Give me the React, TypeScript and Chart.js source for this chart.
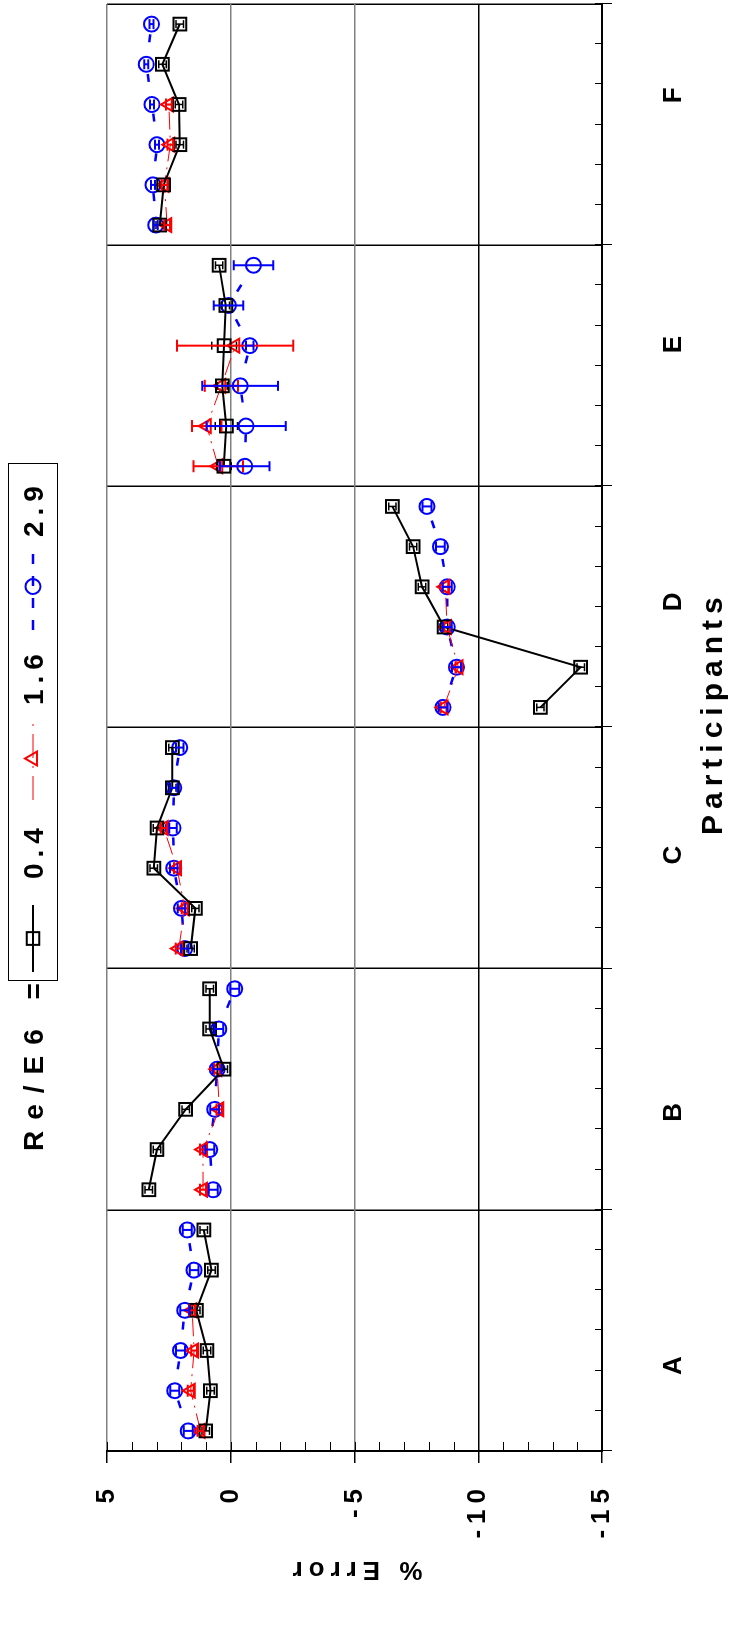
import React, { useEffect, useRef } from 'react';
import { Chart, registerables } from 'chart.js';

Chart.register(...registerables);

// ---------- data ----------
const CATEGORIES = ['A', 'B', 'C', 'D', 'E', 'F'];
const LEGEND_TITLE = 'Re/E6 =';
const SERIES_LABELS = ['0.4', '1.6', '2.9'];
const X_TITLE = 'Participants';
const Y_TITLE = '% Error';

// 6 runs per participant (36 slots), % error
const series04: (number | null)[] = [
  1.01, 0.82, 0.96, 1.39, 0.78, 1.09,
  3.31, 2.98, 1.82, 0.28, 0.85, 0.85,
  1.62, 1.43, 3.11, 2.98, 2.36, 2.36,
  -12.51, -14.14, -8.62, -7.73, -7.37, -6.53,
  0.28, 0.18, 0.34, 0.27, 0.2, 0.47,
  2.87, 2.71, 2.06, 2.09, 2.76, 2.06,
];
const series16: (number | null)[] = [
  1.22, 1.62, 1.48, 1.56, null, null,
  1.12, 1.12, 0.46, 0.55, null, null,
  2.1, 1.86, 2.17, 2.71, null, null,
  -8.6, -9.2, -8.74, -8.67, null, null,
  0.51, 0.97, 0.38, -0.18, null, null,
  2.57, 2.68, 2.44, 2.5, null, null,
];
const series29: (number | null)[] = [
  1.72, 2.26, 2.03, 1.86, 1.48, 1.76,
  0.71, 0.85, 0.65, 0.55, 0.48, -0.16,
  1.86, 1.99, 2.3, 2.33, 2.3, 2.06,
  -8.58, -9.12, -8.75, -8.75, -8.47, -7.93,
  -0.57, -0.62, -0.38, -0.77, 0.09, -0.92,
  3.03, 3.14, 2.98, 3.18, 3.41, 3.2,
];
// error-bar half widths
const err04: number[] = [
  0.15, 0.15, 0.15, 0.15, 0.15, 0.15,
  0.15, 0.15, 0.15, 0.15, 0.15, 0.15,
  0.15, 0.15, 0.15, 0.15, 0.15, 0.15,
  0.15, 0.15, 0.15, 0.15, 0.15, 0.15,
  0.3, 0.45, 0.2, 0.5, 0.15, 0.15,
  0.15, 0.15, 0.15, 0.15, 0.15, 0.15,
];
const err16: number[] = [
  0.12, 0.12, 0.12, 0.12, 0, 0,
  0.12, 0.12, 0.12, 0.12, 0, 0,
  0.12, 0.12, 0.12, 0.12, 0, 0,
  0.12, 0.12, 0.12, 0.12, 0, 0,
  1.0, 0.6, 0.67, 2.35, 0, 0,
  0.12, 0.12, 0.12, 0.12, 0, 0,
];
const err29: number[] = [
  0.18, 0.18, 0.18, 0.18, 0.18, 0.18,
  0.18, 0.18, 0.18, 0.18, 0.18, 0.18,
  0.15, 0.15, 0.15, 0.15, 0.15, 0.15,
  0.18, 0.18, 0.18, 0.18, 0.18, 0.18,
  1.0, 1.6, 1.53, 0.15, 0.6, 0.8,
  0.08, 0.08, 0.08, 0.08, 0.08, 0.08,
];

// where the participant letters sit along the run axis (layout, as in the original)
const LABEL_POS = [2.2, 8.5, 14.9, 21.2, 27.6, 33.8];

const FONT = '"Liberation Sans", Arial, sans-serif';
const SPACING = '6px';

type Pt = { x: number; y: number | null; e?: number };

function build(vals: (number | null)[], errs: number[]): Pt[] {
  const out: Pt[] = [];
  for (let i = 0; i < vals.length; i++) {
    if (i > 0 && i % 6 === 0) out.push({ x: i, y: null });
    out.push({ x: i + 0.5, y: vals[i], e: errs[i] });
  }
  return out;
}

const STYLES = [
  { color: '#000000', lineWidth: 2, dash: [] as number[], dashOffset: 0, point: 'rect', radius: 9, errWidth: 1.5, cap: 4 },
  { color: '#ff0000', lineWidth: 1, dash: [18, 6, 2, 6], dashOffset: 0, point: 'triangle', radius: 8, errWidth: 2, cap: 6 },
  { color: '#0000ff', lineWidth: 2.5, dash: [8, 32], dashOffset: 16, point: 'circle', radius: 7.5, errWidth: 2, cap: 5 },
];

function drawMarker(ctx: CanvasRenderingContext2D, kind: string, x: number, y: number, r: number) {
  ctx.beginPath();
  if (kind === 'rect') {
    const s = r * Math.SQRT1_2;
    ctx.rect(x - s, y - s, 2 * s, 2 * s);
  } else if (kind === 'triangle') {
    ctx.moveTo(x, y - r);
    ctx.lineTo(x + r * Math.sin(Math.PI / 3), y + r * 0.5);
    ctx.lineTo(x - r * Math.sin(Math.PI / 3), y + r * 0.5);
    ctx.closePath();
  } else {
    ctx.arc(x, y, r, 0, Math.PI * 2);
  }
  ctx.stroke();
}

const spacingPlugin = {
  id: 'spacing',
  afterInit(c: any) { c.ctx.letterSpacing = SPACING; },
  beforeUpdate(c: any) { c.ctx.letterSpacing = SPACING; },
  beforeDraw(c: any) { c.ctx.letterSpacing = SPACING; },
};

const decorPlugin = {
  id: 'decor',
  afterDatasetsDraw(chart: any) {
    const { ctx, scales } = chart;
    const ys = scales.y;
    chart.data.datasets.forEach((ds: any, di: number) => {
      const meta = chart.getDatasetMeta(di);
      const st = STYLES[di];
      ctx.save();
      ctx.strokeStyle = st.color;
      ctx.lineWidth = st.errWidth;
      ctx.setLineDash([]);
      ds.data.forEach((p: Pt, j: number) => {
        if (p.y == null || !p.e) return;
        const el = meta.data[j];
        const px = el.x;
        const t = ys.getPixelForValue(p.y + p.e);
        const b = ys.getPixelForValue(p.y - p.e);
        ctx.beginPath();
        ctx.moveTo(px, t); ctx.lineTo(px, b);
        ctx.moveTo(px - st.cap, t); ctx.lineTo(px + st.cap, t);
        ctx.moveTo(px - st.cap, b); ctx.lineTo(px + st.cap, b);
        ctx.stroke();
      });
      ctx.restore();
    });
  },
  afterDraw(chart: any) {
    const { ctx, chartArea, scales } = chart;
    const xs = scales.x, ys = scales.y;
    ctx.save();
    ctx.strokeStyle = '#000';
    ctx.lineWidth = 1;
    ctx.beginPath();
    for (let v = -15; v <= 5; v++) {
      const py = Math.round(ys.getPixelForValue(v)) + 0.5;
      ctx.moveTo(chartArea.left, py); ctx.lineTo(chartArea.left + 9, py);
    }
    for (let i = 0; i <= 36; i++) {
      const px = Math.round(xs.getPixelForValue(i)) + 0.5;
      ctx.moveTo(px, chartArea.bottom); ctx.lineTo(px, chartArea.bottom - 7);
      if (i % 6 === 0) { ctx.moveTo(px, chartArea.bottom); ctx.lineTo(px, chartArea.bottom + 10); }
    }
    ctx.stroke();

    // legend
    ctx.fillStyle = '#000';
    ctx.font = `bold 28px ${FONT}`;
    ctx.textBaseline = 'middle';
    ctx.textAlign = 'left';
    ctx.letterSpacing = '11px';
    ctx.fillText(LEGEND_TITLE, 476, 35);
    ctx.letterSpacing = SPACING;
    ctx.lineWidth = 1;
    ctx.strokeRect(646.5, 8.5, 517, 49);
    const sampleStart = [655, 827, 997];
    const sampleLen = [67, 83, 87];
    const textStart = [748, 922, 1090];
    const cy = 33;
    SERIES_LABELS.forEach((lab, k) => {
      const st = STYLES[k];
      ctx.strokeStyle = st.color;
      ctx.lineWidth = st.lineWidth;
      ctx.setLineDash(st.dash.length ? (k === 2 ? [10, 12] : [24, 8, 2, 8]) : []);
      ctx.beginPath();
      ctx.moveTo(sampleStart[k], cy);
      ctx.lineTo(sampleStart[k] + sampleLen[k], cy);
      ctx.stroke();
      ctx.setLineDash([]);
      ctx.lineWidth = 2;
      drawMarker(ctx, st.point, sampleStart[k] + sampleLen[k] / 2, cy, st.radius);
      ctx.fillStyle = '#000';
      ctx.fillText(lab, textStart[k], cy + 2);
    });
    ctx.restore();
  },
};

export default function App() {
  const ref = useRef<HTMLCanvasElement | null>(null);
  useEffect(() => {
    if (!ref.current) return;
    const datasets = [series04, series16, series29].map((vals, k) => {
      const st = STYLES[k];
      const errs = [err04, err16, err29][k];
      return {
        label: SERIES_LABELS[k],
        data: build(vals, errs),
        borderColor: st.color,
        borderWidth: st.lineWidth,
        borderDash: st.dash,
        borderDashOffset: st.dashOffset,
        pointStyle: st.point,
        pointRadius: st.radius,
        pointBorderColor: st.color,
        pointBackgroundColor: 'rgba(0,0,0,0)',
        pointBorderWidth: 2,
        tension: 0,
        spanGaps: false,
      };
    });
    const tickFont = { family: FONT, size: 26, weight: 'bold' as const };
    const labelIndex = (v: number) => LABEL_POS.findIndex((p) => Math.abs(p - v) < 1e-6);
    const chart = new Chart(ref.current, {
      type: 'line',
      data: { datasets: datasets as any },
      options: {
        animation: false,
        responsive: false,
        devicePixelRatio: 1,
        layout: { autoPadding: false, padding: { top: 107, right: 4, left: 0, bottom: 0 } },
        plugins: { legend: { display: false }, tooltip: { enabled: false } },
        scales: {
          x: {
            type: 'linear',
            min: 0,
            max: 36,
            afterBuildTicks: (s: any) => {
              const vals: number[] = [0, 6, 12, 18, 24, 30, 36, ...LABEL_POS];
              vals.sort((a, b) => a - b);
              s.ticks = vals.map((v) => ({ value: v }));
            },
            afterFit: (s: any) => { s.height = 134; s.paddingLeft = 0; s.paddingRight = 0; },
            ticks: {
              autoSkip: false,
              maxRotation: 0,
              minRotation: 0,
              padding: 0,
              color: '#000',
              font: tickFont,
              callback: (v: any) => {
                const k = labelIndex(Number(v));
                return k >= 0 ? CATEGORIES[k] : '';
              },
            },
            grid: {
              color: (c: any) => {
                const v = c.tick.value;
                return Number.isInteger(v) && v % 6 === 0 ? '#000' : 'rgba(0,0,0,0)';
              },
              tickColor: 'rgba(0,0,0,0)',
              tickLength: 56,
              lineWidth: 1.5,
            },
            border: { color: '#000', width: 2 },
            title: {
              display: true,
              text: '  ' + X_TITLE,
              color: '#000',
              font: { family: FONT, size: 30, weight: 'bold' as const },
              padding: { top: 0, bottom: 4 },
            },
          },
          y: {
            min: -15,
            max: 5,
            afterFit: (s: any) => { s.width = 176; },
            ticks: { stepSize: 5, color: '#000', font: tickFont, padding: 20 },
            grid: {
              color: (c: any) => (c.tick.value === -10 ? '#000' : '#808080'),
              tickColor: '#000',
              tickLength: 12,
              lineWidth: 1.5,
            },
            border: { color: '#000', width: 2 },
            title: {
              display: true,
              text: Y_TITLE,
              color: '#000',
              font: { family: FONT, size: 26, weight: 'bold' as const },
              padding: { top: 42, bottom: 0 },
            },
          },
        },
      },
      plugins: [spacingPlugin, decorPlugin],
    });
    return () => chart.destroy();
  }, []);

  return (
    <div style={{ position: 'fixed', left: 0, top: 0, width: 736, height: 1627, overflow: 'hidden', background: '#fff' }}>
      <div
        style={{
          position: 'absolute',
          left: 0,
          top: 0,
          width: 1627,
          height: 736,
          transformOrigin: '0 0',
          transform: 'translate(0px, 1627px) rotate(-90deg)',
        }}
      >
        <canvas ref={ref} width={1627} height={736} style={{ display: 'block', width: 1627, height: 736 }} />
      </div>
    </div>
  );
}
